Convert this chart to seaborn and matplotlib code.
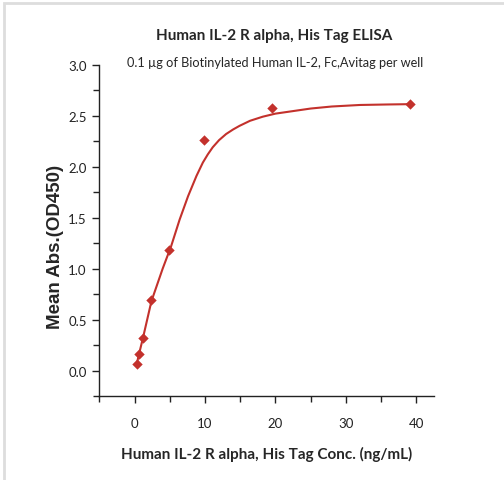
import numpy as np
import pandas as pd
import seaborn as sns
import matplotlib.pyplot as plt
from matplotlib.ticker import MultipleLocator
from matplotlib.patches import Rectangle

# measured points (ng/mL vs OD450)
conc = [0.3, 0.6, 1.2, 2.4, 4.9, 9.8, 19.5, 39.1]
od450 = [0.06, 0.16, 0.32, 0.69, 1.18, 2.26, 2.58, 2.61]

# fitted curve
fit_conc = [0.3, 0.6, 1.2, 2.4, 4.0, 5.2, 6.4, 7.6, 8.8, 9.7, 10.4, 11.1, 12.0, 13.0,
            14.0, 14.9, 16.4, 18.2, 20.0, 22.0, 25.0, 28.0, 32.0, 36.0, 39.1]
fit_od = [0.06, 0.15, 0.32, 0.68, 1.00, 1.22, 1.48, 1.71, 1.91, 2.04, 2.12, 2.19, 2.26, 2.32,
          2.365, 2.40, 2.45, 2.49, 2.52, 2.54, 2.57, 2.59, 2.605, 2.61, 2.613]

df = pd.DataFrame({"conc": conc, "od": od450})
fit = pd.DataFrame({"conc": fit_conc, "od": fit_od})

sns.set_style("ticks")
plt.rcParams['font.family'] = ['Lato', 'DejaVu Sans']

red = "#c3312c"

fig = plt.figure(figsize=(5.04, 4.81), dpi=100)
ax = fig.add_axes([0.197, 0.1746, 0.664, 0.6888])

sns.lineplot(data=fit, x="conc", y="od", color=red, linewidth=1.5, ax=ax)
sns.scatterplot(data=df, x="conc", y="od", color=red, marker="D", s=28,
                edgecolor=red, linewidth=0, ax=ax, zorder=3)

ax.set_xlim(-5, 42.5)
ax.set_ylim(-0.25, 3.0)
ax.xaxis.set_major_locator(MultipleLocator(10))
ax.xaxis.set_minor_locator(MultipleLocator(5))
ax.yaxis.set_minor_locator(MultipleLocator(0.25))
ax.set_yticks([0.0, 0.5, 1.0, 1.5, 2.0, 2.5, 3.0])
ax.yaxis.set_major_formatter(plt.FormatStrFormatter("%.1f"))
ax.tick_params(which="major", length=5, width=1, labelsize=9.5, colors="#222222", pad=4)
ax.tick_params(which="minor", length=4, width=1, colors="#222222")
ax.tick_params(axis="x", pad=10)
sns.despine(ax=ax)
for s in ["left", "bottom"]:
    ax.spines[s].set_linewidth(1)
    ax.spines[s].set_color("#222222")

ax.set_xlabel("Human IL-2 R alpha, His Tag Conc. (ng/mL)", fontsize=11,
              fontweight="bold", labelpad=12)
ax.set_ylabel("Mean Abs.(OD450)", fontsize=13.5, fontweight="bold",
              family=["Liberation Sans", "DejaVu Sans"])
ax.yaxis.set_label_coords(-0.105, 0.454)

fig.text(0.544, 0.925, "Human IL-2 R alpha, His Tag ELISA", ha="center",
         va="center", fontsize=11, fontweight="bold")
fig.text(0.546, 0.869, "0.1 \u00b5g of Biotinylated Human IL-2, Fc,Avitag per well",
         ha="center", va="center", fontsize=9.2)

# light frame round the picture
fig.add_artist(Rectangle((0.007, -0.1), 1.2, 1.092, transform=fig.transFigure,
                         fill=False, edgecolor="#dddddd", linewidth=2))

plt.savefig("out.png", dpi=100)
plt.close()
